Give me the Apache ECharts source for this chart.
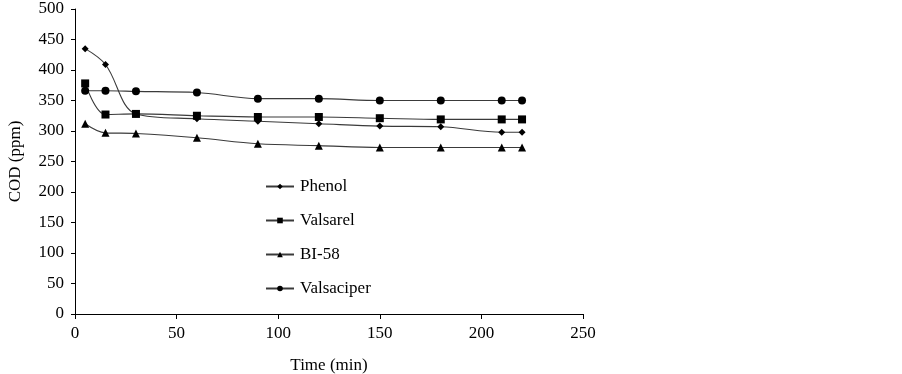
<!DOCTYPE html>
<html><head><meta charset="utf-8">
<script src="https://cdn.jsdelivr.net/npm/echarts@6/dist/echarts.min.js"></script>
<style>html,body{margin:0;padding:0;background:#fff}#c{width:902px;height:374px}</style>
</head><body><div id="c"></div>
<script>
var times = [5, 15, 30, 60, 90, 120, 150, 180, 210, 220];
var phenol = [435, 409, 328, 320, 316, 312, 308, 307, 298, 298];
var valsarel = [378, 327, 328, 325, 323, 323, 321, 319, 319, 319];
var bi58 = [312, 297, 296, 289, 279, 276, 273, 273, 273, 273];
var valsaciper = [366, 366, 365, 363, 353, 353, 350, 350, 350, 350];
var xTicks = [0, 50, 100, 150, 200, 250];
var yTicks = [0, 50, 100, 150, 200, 250, 300, 350, 400, 450, 500];

function pairs(v){ return times.map(function(t,i){return [t, v[i]];}); }
var font = 'Liberation Serif';
function mk(name, data, symbol, size){
  return {name:name, type:'line', data:pairs(data), symbol:symbol, symbolSize:size,
    smooth:0.35, lineStyle:{color:'#3a3a3a', width:1.1}, itemStyle:{color:'#000'}, showSymbol:true};
}
var chart = echarts.init(document.getElementById('c'));
chart.setOption({
  animation:false,
  grid:{left:75, right:319, top:9, bottom:60, containLabel:false, outerBoundsMode:'none'},
  xAxis:{type:'value', min:xTicks[0], max:xTicks[xTicks.length-1], interval:50,
    name:'Time (min)', nameLocation:'middle', nameGap:43,
    nameTextStyle:{fontFamily:font, fontSize:17, color:'#000'},
    axisLine:{show:true, onZero:false, lineStyle:{color:'#000', width:1}},
    axisTick:{show:true, inside:false, length:5, lineStyle:{color:'#000'}},
    axisLabel:{fontFamily:font, fontSize:17, color:'#000', margin:11},
    splitLine:{show:false}},
  yAxis:{type:'value', min:yTicks[0], max:yTicks[yTicks.length-1], interval:50,
    name:'COD (ppm)', nameLocation:'middle', nameGap:51, nameRotate:90,
    nameTextStyle:{fontFamily:font, fontSize:17, color:'#000'},
    axisLine:{show:true, lineStyle:{color:'#000', width:1}},
    axisTick:{show:true, length:4, lineStyle:{color:'#000'}},
    axisLabel:{fontFamily:font, fontSize:17, color:'#000', margin:11},
    splitLine:{show:false}},
  legend:{orient:'vertical', left:260, top:173, itemGap:17, itemWidth:28, itemHeight:7,
    textStyle:{fontFamily:font, fontSize:17, color:'#000', padding:[0,0,0,1]},
    data:['Phenol','Valsarel','BI-58','Valsaciper']},
  series:[
    mk('Phenol', phenol, 'diamond', 7),
    mk('Valsarel', valsarel, 'rect', 8),
    mk('BI-58', bi58, 'triangle', 8),
    mk('Valsaciper', valsaciper, 'circle', 8)
  ]
});
</script></body></html>
